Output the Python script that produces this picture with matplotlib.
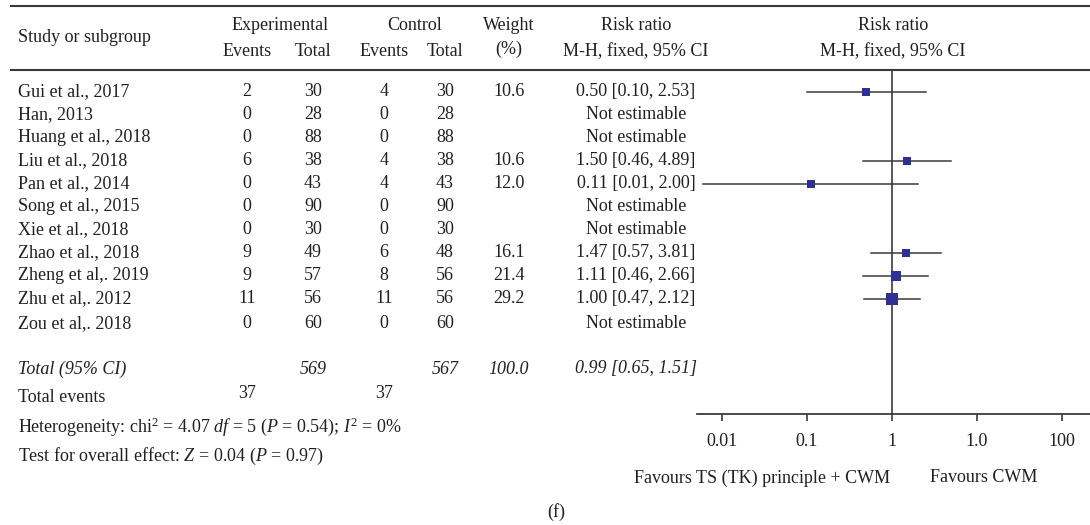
import matplotlib
matplotlib.use("Agg")
import matplotlib.pyplot as plt
from matplotlib.ticker import NullLocator
import numpy as np

plt.rcParams['font.family'] = ['Liberation Serif', 'DejaVu Serif']
plt.rcParams['mathtext.fontset'] = 'custom'
plt.rcParams['mathtext.rm'] = 'Liberation Serif'
plt.rcParams['mathtext.it'] = 'Liberation Serif:italic'

# ---------------- data ----------------
studies = ["Gui et al., 2017", "Han, 2013", "Huang et al., 2018", "Liu et al., 2018",
           "Pan et al., 2014", "Song et al., 2015", "Xie et al., 2018", "Zhao et al., 2018",
           "Zheng et al,. 2019", "Zhu et al,. 2012", "Zou et al,. 2018"]
exp_events = [2, 0, 0, 6, 0, 0, 0, 9, 9, 11, 0]
exp_total = [30, 28, 88, 38, 43, 90, 30, 49, 57, 56, 60]
ctrl_events = [4, 0, 0, 4, 4, 0, 0, 6, 8, 11, 0]
ctrl_total = [30, 28, 88, 38, 43, 90, 30, 48, 56, 56, 60]
weights = [10.6, None, None, 10.6, 12.0, None, None, 16.1, 21.4, 29.2, None]
rr = [0.50, None, None, 1.50, 0.11, None, None, 1.47, 1.11, 1.00, None]
ci_low = [0.10, None, None, 0.46, 0.006, None, None, 0.57, 0.46, 0.47, None]
ci_high = [2.53, None, None, 4.89, 2.00, None, None, 3.81, 2.66, 2.12, None]
rr_labels = ["0.50 [0.10, 2.53]", "Not estimable", "Not estimable", "1.50 [0.46, 4.89]",
             "0.11 [0.01, 2.00]", "Not estimable", "Not estimable", "1.47 [0.57, 3.81]",
             "1.11 [0.46, 2.66]", "1.00 [0.47, 2.12]", "Not estimable"]
total_exp = 569
total_ctrl = 567
total_weight = "100.0"
total_rr_label = "0.99 [0.65, 1.51]"
total_events_exp = 37
total_events_ctrl = 37
tick_values = [0.01, 0.1, 1, 10, 100]
tick_labels = ["0.01", "0.1", "1", "1.0", "100"]

# ---------------- layout ----------------
W, H = 1090, 525
TXT = '#231f20'
LINE = '#3a3a3a'
BLUE = '#2f3192'
FS = 13

fig = plt.figure(figsize=(W / 100, H / 100), dpi=100)
fig.patch.set_facecolor('white')
axT = fig.add_axes([0, 0, 1, 1])
axT.set_xlim(0, W)
axT.set_ylim(H, 0)
axT.axis('off')

def t(x, y, s, ha='center', **kw):
    axT.text(x, y, s, ha=ha, va='center', fontsize=FS, color=TXT, **kw)

# table rules
axT.plot([10, W], [6, 6], color=LINE, lw=1.5, solid_capstyle='butt')
axT.plot([10, W], [70, 70], color=LINE, lw=1.5, solid_capstyle='butt')

# column x positions
X_NAME, X_EE, X_ET, X_CE, X_CT, X_W, X_RR, X_FOREST = 18, 247, 313, 384, 445, 509, 636, 893
Y_H1, Y_H2 = 26, 52

t(X_NAME, 38, "Study or subgroup", ha='left')
t((X_EE + X_ET) / 2, Y_H1, "Experimental")
t(X_EE, Y_H2, "Events")
t(X_ET, Y_H2, "Total")
t((X_CE + X_CT) / 2, Y_H1, "Control")
t(X_CE, Y_H2, "Events")
t(X_CT, Y_H2, "Total")
t(X_W, Y_H1, "Weight")
t(X_W, Y_H2 - 3, "(%)")
t(X_RR, Y_H1, "Risk ratio")
t(X_RR, Y_H2, "M-H, fixed, 95% CI")
t(X_FOREST, Y_H1, "Risk ratio")
t(X_FOREST, Y_H2, "M-H, fixed, 95% CI")

row_y = [91.5 + 23 * i for i in range(10)] + [324]
for i, name in enumerate(studies):
    y = row_y[i]
    t(X_NAME, y, name, ha='left')
    t(X_EE, y, str(exp_events[i]))
    t(X_ET, y, str(exp_total[i]))
    t(X_CE, y, str(ctrl_events[i]))
    t(X_CT, y, str(ctrl_total[i]))
    if weights[i] is not None:
        t(X_W, y, f"{weights[i]:.1f}")
    t(X_RR, y, rr_labels[i])

Y_TOT, Y_TE, Y_HET, Y_TEST = 369, 398, 427, 456
t(X_NAME, Y_TOT, "Total (95% CI)", ha='left', style='italic')
t(X_ET, Y_TOT, str(total_exp), style='italic')
t(X_CT, Y_TOT, str(total_ctrl), style='italic')
t(X_W, Y_TOT, total_weight, style='italic')
t(X_RR, Y_TOT, total_rr_label, style='italic')
t(X_NAME, Y_TE, "Total events", ha='left')
t(X_EE, Y_TE - 4, str(total_events_exp))
t(X_CE, Y_TE - 4, str(total_events_ctrl))
t(X_NAME, Y_HET, r"Heterogeneity: chi$^2$ = 4.07 $\mathit{df}$ = 5 ($\mathit{P}$ = 0.54); $\mathit{I}^2$ = 0%", ha='left')
t(X_NAME, Y_TEST, r"Test for overall effect: $\mathit{Z}$ = 0.04 ($\mathit{P}$ = 0.97)", ha='left')

t(890, 478, "Favours TS (TK) principle + CWM", ha='right')
t(930, 478, "Favours CWM", ha='left')
t(556, 512, "(f)")

# ---------------- forest axes ----------------
X0, X1, XC, DEC = 697, W, 892, 85
axF = fig.add_axes([X0 / W, 0, (X1 - X0) / W, 1])
axF.patch.set_alpha(0)
axF.set_xscale('log')
axF.set_xlim(10 ** ((X0 - XC) / DEC), 10 ** ((X1 - XC) / DEC))
axF.set_ylim(H, 0)
for s in ['top', 'right', 'left']:
    axF.spines[s].set_visible(False)
Y_AX = 414
axF.spines['bottom'].set_position(('data', Y_AX))
axF.spines['bottom'].set_color(LINE)
axF.spines['bottom'].set_linewidth(1.3)
axF.set_xticks(tick_values)
axF.set_xticklabels(tick_labels)
axF.xaxis.set_minor_locator(NullLocator())
axF.tick_params(axis='x', direction='out', length=5, width=1.2, color=LINE,
                pad=9, labelsize=FS, labelcolor=TXT)
axF.set_yticks([])

axF.plot([1, 1], [70, Y_AX], color=LINE, lw=1.2, zorder=1)

for i in range(len(studies)):
    if rr[i] is None:
        continue
    y = row_y[i]
    axF.plot([ci_low[i], ci_high[i]], [y, y], color=LINE, lw=1.1, zorder=2)
    side_pt = 2.2 * np.sqrt(weights[i]) * 0.72
    axF.scatter([rr[i]], [y], marker='s', s=side_pt ** 2, color=BLUE, zorder=3, linewidths=0)

fig.savefig("out.png", dpi=100, facecolor='white')
